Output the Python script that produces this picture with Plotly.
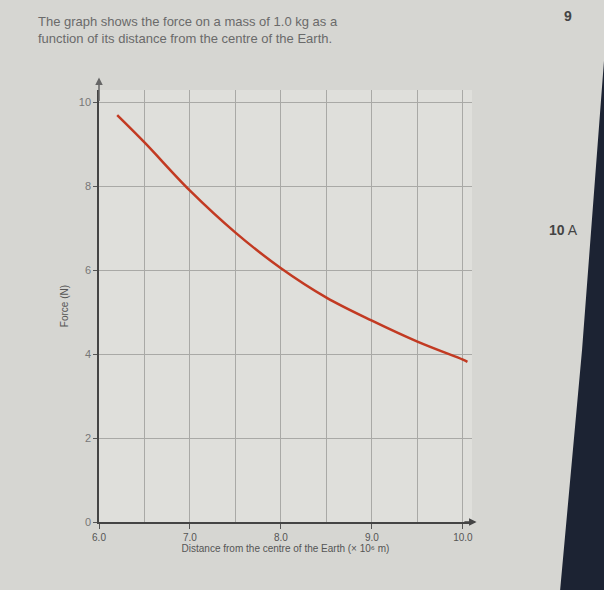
import plotly.graph_objects as go

# Data
distance = [6.2, 6.5, 7.0, 7.5, 8.0, 8.5, 9.0, 9.5, 10.0, 10.05]   # x 10^6 m
force = [9.7, 9.05, 7.9, 6.9, 6.05, 5.35, 4.8, 4.3, 3.87, 3.82]   # N

x_tickvals = [6.0, 7.0, 8.0, 9.0, 10.0]
x_ticktext = ["6.0", "7.0", "8.0", "9.0", "10.0"]
y_tickvals = [0, 2, 4, 6, 8, 10]

caption = ("The graph shows the force on a mass of 1.0 kg as a<br>"
           "function of its distance from the centre of the Earth.")

font_family = "Liberation Sans, Arial, sans-serif"

fig = go.Figure()
fig.add_trace(go.Scatter(
    x=distance, y=force, mode="lines",
    line=dict(color="#c23a22", width=2.5, shape="spline"),
    hoverinfo="skip", showlegend=False,
))

fig.update_layout(
    width=604, height=590,
    margin=dict(l=99, r=132, t=90, b=68),
    paper_bgcolor="#d6d6d2",
    plot_bgcolor="#dfdfdb",
    font=dict(family=font_family, color="#555555", size=11),
    xaxis=dict(
        range=[6.0, 10.1],
        tickvals=x_tickvals, ticktext=x_ticktext,
        ticks="outside", ticklen=5, tickcolor="#555",
        showgrid=True, gridcolor="#a9a9a6", gridwidth=1,
        zeroline=False,
        showline=True, linecolor="#444", linewidth=1.5,
        minor=dict(dtick=0.5, tick0=6.0, showgrid=True, gridcolor="#a9a9a6", gridwidth=1),
        title=dict(text="Distance from the centre of the Earth (× 10⁶ m)",
                   font=dict(size=10, color="#555"), standoff=2),
        tickfont=dict(size=10, color="#555"),
    ),
    yaxis=dict(
        range=[0, 10.3],
        tickvals=y_tickvals,
        ticks="outside", ticklen=4, tickcolor="#555",
        showgrid=True, gridcolor="#a9a9a6", gridwidth=1,
        zeroline=False,
        showline=True, linecolor="#444", linewidth=1.5,
        title=dict(text="Force (N)", font=dict(size=10, color="#555"), standoff=8),
        tickfont=dict(size=11, color="#777"),
    ),
)

# axis arrows
fig.add_annotation(x=10.15, y=0, ax=10.0, ay=0, xref="x", yref="y", axref="x", ayref="y",
                   showarrow=True, arrowhead=2, arrowsize=1, arrowwidth=1.5,
                   arrowcolor="#444", text="")
fig.add_annotation(x=6.0, y=10.6, ax=6.0, ay=10.0, xref="x", yref="y", axref="x", ayref="y",
                   showarrow=True, arrowhead=2, arrowsize=1, arrowwidth=1.5,
                   arrowcolor="#666", text="")

# dark page edge on the right
fig.add_shape(type="path", xref="paper", yref="paper",
              path="M 1.354 1.069 L 1.36 1.069 L 1.36 -0.16 L 1.236 -0.16 L 1.295 0.398 Z",
              fillcolor="#1c2333", line=dict(width=0), layer="above")

# page caption
fig.add_annotation(text=caption, xref="paper", yref="paper", x=-0.17, y=1.0, yshift=78,
                   xanchor="left", yanchor="top", showarrow=False, align="left",
                   font=dict(family=font_family, size=13, color="#6a6a6a"))
fig.add_annotation(text="<b>9</b>", xref="paper", yref="paper", x=1.257, y=1.0, yshift=84,
                   xanchor="center", yanchor="top", showarrow=False,
                   font=dict(family=font_family, size=14, color="#444"))
fig.add_annotation(text="<b>10</b> A", xref="paper", yref="paper", x=1.245, y=1.0, yshift=-130,
                   xanchor="center", yanchor="top", showarrow=False,
                   font=dict(family=font_family, size=14, color="#444"))

fig.write_html("out.html")
